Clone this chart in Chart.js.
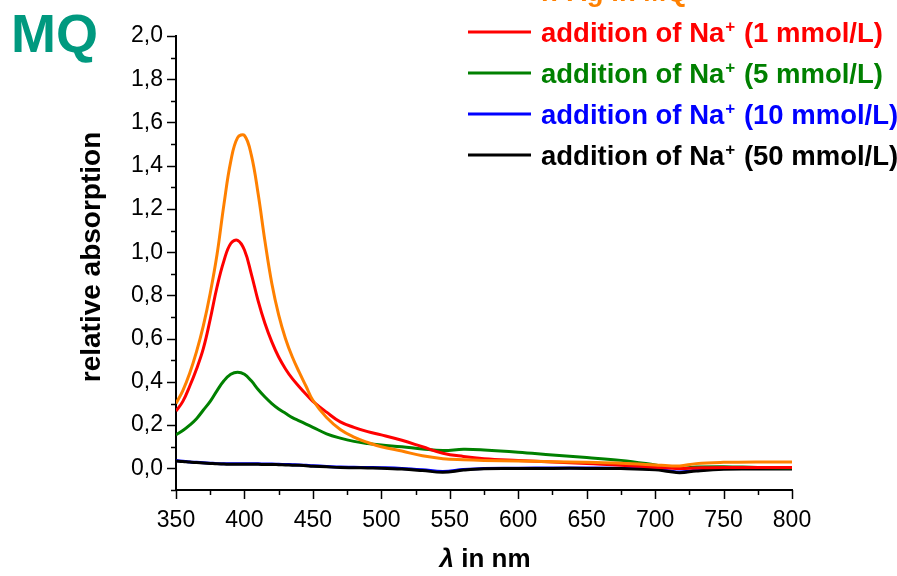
<!DOCTYPE html>
<html>
<head>
<meta charset="utf-8">
<script src="https://cdn.jsdelivr.net/npm/chart.js@4.4.1/dist/chart.umd.min.js"></script>
<style>
    html, body { margin: 0; padding: 0; background: #fff; }
    #wrap { width: 897px; height: 576px; }
</style>
</head>
<body>
<div id="wrap"><canvas id="chart" width="897" height="576"></canvas></div>
<script>
// wavelength in nm
const wavelengths = [350, 355, 360, 365, 370, 375, 380, 385, 390, 395, 400, 405, 410, 415, 420, 425, 430, 435, 440, 445, 450,
    460, 470, 480, 490, 500, 515, 530, 545, 560, 575, 600, 625, 650, 675, 700, 710, 718, 730, 750, 775, 800];

const agInMq = [0.30, 0.36, 0.44, 0.54, 0.66, 0.81, 0.99, 1.22, 1.42, 1.53, 1.54, 1.45, 1.27, 1.05, 0.855, 0.71, 0.60, 0.515, 0.445, 0.38, 0.315,
    0.235, 0.18, 0.145, 0.12, 0.10, 0.08, 0.058, 0.045, 0.04, 0.037, 0.034, 0.031, 0.028, 0.024, 0.016, 0.012, 0.011, 0.022, 0.028, 0.030, 0.029];
const na1 = [0.265, 0.31, 0.38, 0.46, 0.555, 0.69, 0.84, 0.96, 1.04, 1.055, 1.01, 0.90, 0.775, 0.67, 0.585, 0.515, 0.46, 0.415, 0.378, 0.343, 0.31,
    0.26, 0.215, 0.19, 0.17, 0.155, 0.13, 0.10, 0.07, 0.055, 0.045, 0.037, 0.03, 0.022, 0.015, 0.005, 0.002, 0.000, 0.002, 0.004, 0.004, 0.004];
const na5 = [0.155, 0.175, 0.20, 0.23, 0.27, 0.31, 0.36, 0.405, 0.435, 0.445, 0.435, 0.405, 0.365, 0.33, 0.30, 0.275, 0.255, 0.235, 0.22, 0.205, 0.19,
    0.16, 0.14, 0.125, 0.115, 0.108, 0.10, 0.09, 0.083, 0.088, 0.085, 0.075, 0.062, 0.05, 0.037, 0.016, 0.006, 0.000, 0.006, 0.008, 0.004, 0.002];
const na10 = [0.036, 0.033, 0.030, 0.028, 0.026, 0.024, 0.022, 0.021, 0.021, 0.021, 0.021, 0.021, 0.021, 0.020, 0.020, 0.019, 0.018, 0.017, 0.016, 0.014, 0.012,
    0.009, 0.006, 0.005, 0.004, 0.003, 0.000, -0.006, -0.014, -0.005, 0.000, 0.001, 0.002, 0.002, 0.001, -0.003, -0.011, -0.017, -0.009, -0.001, 0.000, 0.000];
const na50 = [0.034, 0.032, 0.029, 0.027, 0.025, 0.023, 0.021, 0.020, 0.019, 0.019, 0.019, 0.019, 0.019, 0.018, 0.018, 0.017, 0.016, 0.015, 0.014, 0.012, 0.010,
    0.007, 0.004, 0.003, 0.002, 0.001, -0.003, -0.010, -0.018, -0.008, -0.002, -0.001, 0.000, 0.000, -0.001, -0.006, -0.014, -0.020, -0.012, -0.004, -0.003, -0.003];

// legend text, split round the superscript "+"
const seriesNames = ['n-Ag in MQ', 'addition of Na', 'addition of Na', 'addition of Na', 'addition of Na'];
const seriesSuffix = ['', ' (1 mmol/L)', ' (5 mmol/L)', ' (10 mmol/L)', ' (50 mmol/L)'];
const seriesColors = ['#ff8000', '#ff0000', '#008000', '#0000ff', '#000000'];
const seriesValues = [agInMq, na1, na5, na10, na50];

const FONT = '"Liberation Sans", Arial, sans-serif';

function points(values) {
    return wavelengths.map((w, i) => ({ x: w, y: values[i] }));
}

// draw on top: orange, red, green, black, blue
const drawOrder = [0, 1, 2, 4, 3];

const datasets = seriesValues.map((vals, i) => ({
    label: seriesNames[i] + seriesSuffix[i],
    data: points(vals),
    borderColor: seriesColors[i],
    borderWidth: 3,
    pointRadius: 0,
    fill: false,
    tension: 0.4,
    order: drawOrder[i]
}));

// ticks (major + minor), titles and legend
const decorPlugin = {
    id: 'decor',
    afterDraw(chart) {
        const ctx = chart.ctx;
        const xs = chart.scales.x;
        const ys = chart.scales.y;
        const area = chart.chartArea;
        ctx.save();
        ctx.strokeStyle = '#000';
        ctx.lineWidth = 1.5;
        ys.ticks.forEach(t => {
            const py = Math.round(ys.getPixelForValue(t.value)) + 0.5;
            const len = t.label ? 9 : 5;
            ctx.beginPath();
            ctx.moveTo(area.left, py);
            ctx.lineTo(area.left - len, py);
            ctx.stroke();
        });
        xs.ticks.forEach(t => {
            const px = Math.round(xs.getPixelForValue(t.value)) + 0.5;
            const len = t.label ? 9 : 5;
            ctx.beginPath();
            ctx.moveTo(px, area.bottom);
            ctx.lineTo(px, area.bottom + len);
            ctx.stroke();
        });

        // MQ tag
        ctx.fillStyle = '#00997f';
        ctx.font = 'bold 54px ' + FONT;
        ctx.textAlign = 'left';
        ctx.textBaseline = 'alphabetic';
        ctx.fillText('MQ', 11, 52);

        // axis titles
        ctx.fillStyle = '#000';
        ctx.font = 'bold 28px ' + FONT;
        ctx.textAlign = 'center';
        ctx.save();
        ctx.translate(100, 257);
        ctx.rotate(-Math.PI / 2);
        ctx.fillText('relative absorption', 0, 0);
        ctx.restore();

        ctx.textAlign = 'left';
        ctx.font = 'italic bold 26px ' + FONT;
        const lam = 'λ';
        const lamW = ctx.measureText(lam).width;
        ctx.font = 'bold 26px ' + FONT;
        const restW = ctx.measureText(' in nm').width;
        let tx = 485 - (lamW + restW) / 2;
        ctx.font = 'italic bold 26px ' + FONT;
        ctx.fillText(lam, tx, 567);
        ctx.font = 'bold 26px ' + FONT;
        ctx.fillText(' in nm', tx + lamW, 567);

        // legend, first row runs off the top
        seriesNames.forEach((name, i) => {
            const ly = -9 + i * 41;
            ctx.strokeStyle = seriesColors[i];
            ctx.lineWidth = 3;
            ctx.beginPath();
            ctx.moveTo(468, ly);
            ctx.lineTo(531, ly);
            ctx.stroke();

            ctx.fillStyle = seriesColors[i];
            ctx.font = 'bold 27.5px ' + FONT;
            let x = 541;
            const base = ly + 10;
            ctx.fillText(name, x, base);
            x += ctx.measureText(name).width;
            if (i > 0) {
                ctx.font = 'bold 17px ' + FONT;
                ctx.fillText('+', x + 1, base - 10);
                x += ctx.measureText('+').width + 2;
                ctx.font = 'bold 27.5px ' + FONT;
                ctx.fillText(seriesSuffix[i], x, base);
            }
        });
        ctx.restore();
    }
};

new Chart(document.getElementById('chart'), {
    type: 'line',
    data: { datasets: datasets },
    options: {
        responsive: false,
        animation: false,
        devicePixelRatio: 1,
        layout: { padding: { left: 0, top: 36, right: 105, bottom: 0 } },
        plugins: {
            legend: { display: false },
            tooltip: { enabled: false }
        },
        scales: {
            x: {
                type: 'linear',
                min: 350,
                max: 800,
                ticks: {
                    stepSize: 25,
                    autoSkip: false,
                    maxRotation: 0,
                    padding: 7,
                    color: '#000',
                    font: { family: FONT, size: 23 },
                    callback: v => (v % 50 === 0 ? String(v) : '')
                },
                grid: { drawOnChartArea: false, drawTicks: true, tickLength: 10, tickColor: 'rgba(0,0,0,0)' },
                border: { display: true, color: '#000', width: 2 },
                afterFit(scale) {
                    scale.height = 86;
                    scale.paddingLeft = 0;
                    scale.paddingRight = 0;
                }
            },
            y: {
                type: 'linear',
                min: -0.1,
                max: 2.0,
                ticks: {
                    stepSize: 0.1,
                    autoSkip: false,
                    padding: 3,
                    color: '#000',
                    font: { family: FONT, size: 23 },
                    callback: v => {
                        const k = Math.round(v * 10);
                        return k % 2 === 0 ? (k / 10).toFixed(1).replace('.', ',') : '';
                    }
                },
                grid: { drawOnChartArea: false, drawTicks: true, tickLength: 10, tickColor: 'rgba(0,0,0,0)' },
                border: { display: true, color: '#000', width: 2 },
                afterFit(scale) {
                    scale.width = 176;
                    scale.paddingTop = 0;
                    scale.paddingBottom = 0;
                }
            }
        }
    },
    plugins: [decorPlugin]
});
</script>
</body>
</html>
